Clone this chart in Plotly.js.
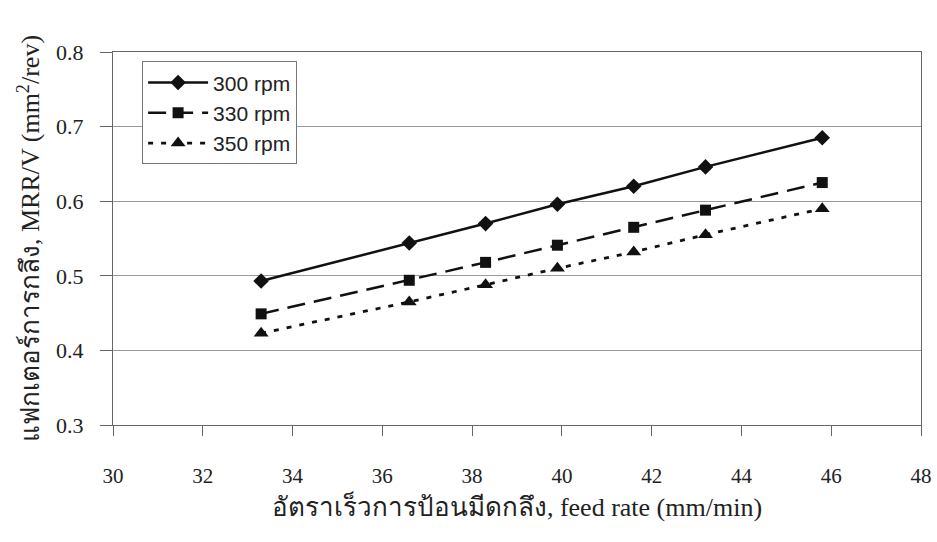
<!DOCTYPE html>
<html>
<head>
<meta charset="utf-8">
<script src="https://cdn.plot.ly/plotly-3.0.1.min.js"></script>
<style>
  html, body { margin: 0; padding: 0; background: #fff; }
  #chart { width: 937px; height: 542px; }
</style>
</head>
<body>
<div id="chart"></div>
<script>
// Feed rate (mm/min) and turning factor MRR/V (mm^2/rev) per spindle speed
const feedRate = [33.3, 36.6, 38.3, 39.9, 41.6, 43.2, 45.8];
const rpm300 = [0.493, 0.544, 0.570, 0.596, 0.620, 0.646, 0.685];
const rpm330 = [0.449, 0.494, 0.518, 0.541, 0.565, 0.588, 0.625];
const rpm350 = [0.423, 0.465, 0.488, 0.510, 0.532, 0.555, 0.590];
const seriesNames = ['300 rpm', '330 rpm', '350 rpm'];
const xTicks = [30, 32, 34, 36, 38, 40, 42, 44, 46, 48];
const yTicks = [0.3, 0.4, 0.5, 0.6, 0.7, 0.8];

const serif = 'Liberation Serif, "Times New Roman", serif';
const sans = 'Liberation Sans, Arial, sans-serif';

const traces = [
  {
    x: feedRate, y: rpm300, name: seriesNames[0], mode: 'lines+markers',
    line: { color: '#111', width: 2.5, dash: 'solid' },
    marker: { symbol: 'diamond', size: 12, color: '#111' }
  },
  {
    x: feedRate, y: rpm330, name: seriesNames[1], mode: 'lines+markers',
    line: { color: '#111', width: 2.5, dash: '18px,9px' },
    marker: { symbol: 'square', size: 11, color: '#111' }
  },
  {
    x: feedRate, y: rpm350, name: seriesNames[2], mode: 'lines+markers',
    line: { color: '#111', width: 2.8, dash: '5px,8px' },
    marker: { symbol: 'triangle-up', size: 13, color: '#111' }
  }
];

const layout = {
  width: 937, height: 542,
  paper_bgcolor: '#fff', plot_bgcolor: '#fff',
  margin: { l: 113, r: 16, t: 52, b: 117 },
  showlegend: true,
  legend: {
    x: 0.036, y: 0.975, xanchor: 'left', yanchor: 'top',
    bgcolor: '#fff', bordercolor: '#777', borderwidth: 1,
    font: { family: sans, size: 21, color: '#222' },
    tracegroupgap: 0, itemwidth: 60
  },
  xaxis: {
    range: [30, 48], tickvals: xTicks, ticktext: xTicks.map(String),
    showgrid: false, zeroline: false,
    showline: true, linecolor: '#666', linewidth: 1, mirror: true,
    ticks: 'outside', ticklen: 10, tickcolor: '#666',
    ticklabelstandoff: 22,
    tickfont: { family: serif, size: 21, color: '#222' },
    title: {
      text: 'อัตราเร็วการป้อนมีดกลึง, feed rate (mm/min)',
      font: { family: serif, size: 26, color: '#222' },
      standoff: 10
    }
  },
  yaxis: {
    range: [0.3, 0.8], tickvals: yTicks, ticktext: yTicks.map(v => v.toFixed(1)),
    showgrid: true, gridcolor: '#999', gridwidth: 1, zeroline: false,
    showline: true, linecolor: '#666', linewidth: 1, mirror: true,
    ticks: 'outside', ticklen: 12, tickcolor: '#666',
    ticklabelstandoff: 12,
    tickfont: { family: serif, size: 22, color: '#222' },
    title: {
      text: 'แฟกเตอร์การกลึง, MRR/V (mm<sup>2</sup>/rev)',
      font: { family: serif, size: 26, color: '#222' },
      standoff: 8
    }
  }
};

Plotly.newPlot('chart', traces, layout, { displayModeBar: false, staticPlot: true });
</script>
</body>
</html>
